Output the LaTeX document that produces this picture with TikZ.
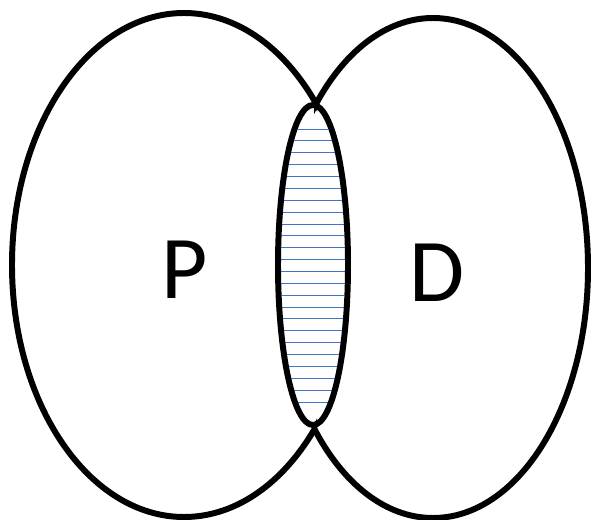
\documentclass[tikz,border=0pt]{standalone}
\usepackage{fontspec}
\setmainfont{Carlito}
\usepackage{tikz}
\usetikzlibrary{positioning,calc}
\definecolor{HatchBlue}{HTML}{4472C4}

\begin{document}
\begin{tikzpicture}[
    x=0.02cm, y=-0.02cm,
    venn/.style={draw=black,line width=3.4pt},
    hatch/.style={draw=HatchBlue,line width=0.5pt},
    setlabel/.style={font=\fontsize{51}{51}\selectfont,inner sep=0pt}
  ]
  \useasboundingbox (0,0) rectangle (591,520);

  % hatching of the overlap
  \foreach \i in {0,...,23} {
    \pgfmathsetmacro{\yy}{129+\i*11.87}
    \pgfmathsetmacro{\hw}{35*sqrt(max(0,1-((\yy-265)/160)^2))-3}
    \draw[hatch] (313-\hw,\yy) -- (313+\hw,\yy);
  }

  % the two sets, outer arcs only
  \begin{scope}
    \clip (0,0) rectangle (317,520);
    \draw[venn] (184,265) ellipse [x radius=172, y radius=252];
  \end{scope}
  \begin{scope}
    \clip (314,0) rectangle (591,520);
    \draw[venn] (433,268) ellipse [x radius=155, y radius=250];
  \end{scope}
  % the overlap
  \draw[venn] (313,265) ellipse [x radius=35, y radius=160];

  \node[setlabel] (p) at (185,270) {P};
  \node[setlabel] (d) at (437,273) {D};
\end{tikzpicture}
\end{document}
